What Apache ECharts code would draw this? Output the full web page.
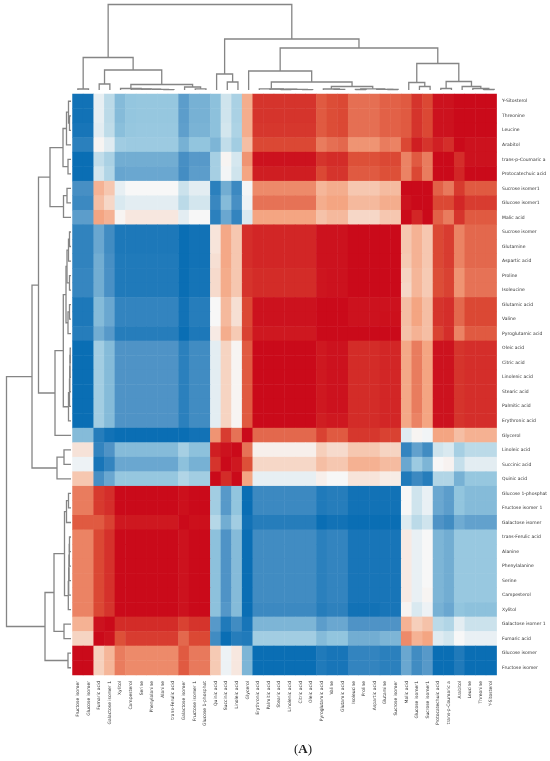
<!DOCTYPE html>
<html>
<head>
<meta charset="utf-8">
<style>html,body{margin:0;padding:0;background:#fff}#c{width:550px;height:761px}</style>
<script src="https://cdn.jsdelivr.net/npm/echarts@6/dist/echarts.min.js"></script>
</head>
<body>
<div id="c"></div>
<script>
const rowLabels = ["Y-Sitosterol","Threonine","Leucine","Arabitol","trans-p-Coumaric a","Protocatechuic acid","Sucrose isomer1","Glucose isomer1","Malic acid","Sucrose isomer","Glutamine","Aspartic acid","Proline","Isoleucine","Glutamic acid","Valine","Pyroglutamic acid","Oleic acid","Citric acid","Linolenic acid","Stearic acid","Palmitic acid","Erythronic acid","Glycerol","Linoleic acid","Succinic acid","Quinic acid","Glucose 1-phosphat","Fructose isomer 1","Galactose isomer","trans-Ferulic acid","Alanine","Phenylalanine","Serine","Campesterol","Xylitol","Galactose isomer 1","Fumaric acid","Glucose isomer","Fructose isomer"];
const colLabels = ["Fructose isomer","Glucose isomer","Fumaric acid","Galactose isomer 1","Xylitol","Campesterol","Serine","Phenylalanine","Alanine","trans-Ferulic acid","Galactose isomer","Fructose isomer 1","Glucose 1-phosphat","Quinic acid","Succinic acid","Linoleic acid","Glycerol","Erythronic acid","Palmitic acid","Stearic acid","Linolenic acid","Citric acid","Oleic acid","Pyroglutamic acid","Valine","Glutamic acid","Isoleucine","Proline","Aspartic acid","Glutamine","Sucrose isomer","Malic acid","Glucose isomer1","Sucrose isomer1","Protocatechuic acid","trans-p-Coumaric a","Arabitol","Leucine","Threonine","Y-Sitosterol"];

// correlation x 100, one list per row, columns in colLabels order
const cellValues = [
[-97,-97,-8,-30,-55,-49,-48,-48,-48,-48,-70,-60,-60,-52,-20,-38,45,85,85,85,85,85,85,72,76,78,66,66,66,70,70,72,85,78,97,97,100,100,100,100],
[-97,-97,-8,-30,-55,-49,-48,-48,-48,-48,-70,-60,-60,-52,-20,-38,45,85,85,85,85,85,85,72,76,78,66,66,66,70,70,72,85,78,97,97,100,100,100,100],
[-95,-95,-10,-28,-53,-48,-47,-47,-47,-47,-69,-59,-59,-52,-18,-37,45,84,84,84,84,84,84,72,76,78,66,66,66,70,70,72,85,78,97,97,100,100,100,100],
[-88,-88,2,-12,-43,-45,-45,-45,-45,-45,-60,-50,-50,-58,-27,-42,35,78,78,78,78,78,78,62,66,68,55,55,55,62,60,78,93,85,92,87,100,97,97,97],
[-100,-100,-27,-38,-62,-62,-62,-62,-62,-62,-78,-72,-72,-40,2,-17,55,97,97,97,97,97,97,85,88,88,75,75,75,78,78,60,72,62,100,100,87,97,97,97],
[-100,-100,-18,-35,-66,-65,-65,-65,-65,-65,-79,-70,-70,-40,-2,-20,50,93,93,93,93,93,93,78,85,85,72,72,72,75,75,60,78,62,100,100,90,100,100,100],
[-78,-78,42,30,-8,0,0,0,0,0,-22,-10,-10,-88,-62,-82,-2,58,58,58,58,58,58,40,45,45,30,30,30,37,37,100,100,100,70,63,83,72,72,72],
[-82,-82,35,20,-15,-10,-10,-10,-10,-10,-30,-18,-18,-83,-55,-78,-5,65,65,65,65,65,65,45,50,50,38,38,38,45,45,97,100,100,78,78,90,82,82,82],
[-70,-70,50,42,2,10,10,10,10,10,-10,0,0,-88,-65,-85,-15,50,50,50,50,50,50,33,38,38,20,20,20,30,30,100,90,100,70,62,85,72,72,72],
[-86,-86,-65,-80,-93,-93,-93,-93,-93,-93,-100,-97,-97,12,48,30,87,90,90,90,90,90,90,97,97,97,100,100,100,100,100,30,42,30,78,82,60,68,68,68],
[-86,-86,-65,-80,-93,-93,-93,-93,-93,-93,-100,-97,-97,12,48,30,87,90,90,90,90,90,90,97,97,97,100,100,100,100,100,30,42,30,78,82,60,68,68,68],
[-86,-86,-62,-78,-92,-92,-92,-92,-92,-92,-100,-97,-97,15,48,30,87,90,90,90,90,90,90,97,97,97,100,100,100,100,100,28,42,30,78,82,60,68,68,68],
[-84,-84,-62,-77,-92,-92,-92,-92,-92,-92,-100,-96,-96,18,46,30,85,88,88,88,88,88,88,96,97,97,100,100,100,100,100,22,40,28,76,80,55,65,65,65],
[-84,-84,-62,-77,-92,-92,-92,-92,-92,-92,-100,-96,-96,18,46,30,85,88,88,88,88,88,88,96,97,97,100,100,100,100,100,20,40,28,76,80,55,65,65,65],
[-93,-93,-55,-65,-85,-85,-85,-85,-85,-85,-97,-90,-90,0,38,15,78,97,97,97,97,97,97,100,100,100,97,97,97,97,97,35,50,35,85,87,68,78,78,78],
[-93,-93,-55,-65,-85,-85,-85,-85,-85,-85,-97,-90,-90,0,38,15,78,97,97,97,97,97,97,100,100,100,97,97,97,98,98,35,50,35,85,87,68,78,78,78],
[-90,-90,-62,-72,-90,-90,-90,-90,-90,-90,-100,-93,-93,8,45,28,80,95,95,95,95,95,95,100,100,100,100,100,100,100,100,33,42,35,80,87,60,72,72,72],
[-100,-100,-42,-55,-75,-75,-75,-75,-75,-75,-88,-80,-80,-10,22,2,72,100,100,100,100,100,100,95,97,97,88,88,88,90,90,48,62,50,97,97,85,87,87,87],
[-100,-100,-42,-55,-75,-75,-75,-75,-75,-75,-88,-80,-80,-10,22,2,72,100,100,100,100,100,100,95,97,97,88,88,88,90,90,48,62,50,97,97,85,87,87,87],
[-100,-100,-42,-55,-75,-75,-75,-75,-75,-75,-88,-80,-80,-10,22,2,72,100,100,100,100,100,100,95,97,97,88,88,88,90,90,48,62,50,97,97,85,87,87,87],
[-100,-100,-42,-55,-75,-75,-75,-75,-75,-75,-88,-80,-80,-10,22,2,72,100,100,100,100,100,100,95,97,97,88,88,88,90,90,48,62,50,97,97,85,87,87,87],
[-100,-100,-42,-55,-75,-75,-75,-75,-75,-75,-88,-80,-80,-10,22,2,72,100,100,100,100,100,100,95,97,97,88,88,88,90,90,48,62,50,97,97,85,87,87,87],
[-100,-100,-42,-55,-75,-75,-75,-75,-75,-75,-88,-80,-80,-10,22,2,72,100,100,100,100,100,100,93,95,95,88,88,88,90,90,48,60,50,97,97,85,87,87,87],
[-55,-55,-90,-97,-100,-100,-100,-100,-100,-100,-100,-97,-97,55,82,65,100,68,68,68,68,68,68,80,72,72,84,84,84,80,80,-12,2,-3,50,50,35,43,43,43],
[13,13,-85,-75,-55,-55,-55,-55,-55,-55,-40,-52,-52,93,97,100,65,5,5,5,5,5,5,25,18,18,30,30,30,22,22,-85,-68,-80,-20,-15,-40,-30,-30,-30],
[-5,-5,-95,-85,-65,-65,-65,-65,-65,-65,-52,-60,-60,85,100,95,75,20,20,20,20,20,20,35,30,30,43,43,43,37,37,-65,-45,-58,0,3,-25,-10,-10,-10],
[30,30,-78,-65,-48,-48,-48,-48,-48,-48,-35,-42,-42,100,88,100,50,-8,-8,-8,-8,-8,-8,5,0,0,12,12,12,7,7,-92,-82,-90,-35,-35,-60,-48,-48,-48],
[62,62,83,87,100,100,100,100,100,100,98,100,100,-42,-72,-50,-100,-82,-82,-82,-82,-82,-82,-92,-90,-90,-97,-97,-97,-97,-97,0,-20,-7,-65,-70,-50,-55,-55,-55],
[62,62,83,87,100,100,100,100,100,100,98,100,100,-42,-72,-50,-100,-82,-82,-82,-82,-82,-82,-92,-90,-90,-97,-97,-97,-97,-97,0,-20,-7,-65,-70,-50,-55,-55,-55],
[72,72,72,80,95,95,95,95,95,95,100,98,98,-33,-62,-42,-97,-90,-90,-90,-90,-90,-90,-100,-97,-97,-100,-100,-100,-100,-100,-13,-30,-20,-75,-80,-63,-68,-68,-68],
[60,60,78,86,100,100,100,100,100,100,97,100,100,-52,-75,-55,-100,-80,-80,-80,-80,-80,-80,-88,-85,-85,-95,-95,-95,-95,-95,8,-7,0,-58,-62,-47,-47,-47,-47],
[60,60,78,86,100,100,100,100,100,100,97,100,100,-52,-75,-55,-100,-80,-80,-80,-80,-80,-80,-88,-85,-85,-95,-95,-95,-95,-95,8,-7,0,-58,-62,-47,-47,-47,-47],
[60,60,78,86,100,100,100,100,100,100,97,100,100,-52,-75,-55,-100,-80,-80,-80,-80,-80,-80,-88,-85,-85,-95,-95,-95,-95,-95,8,-7,0,-58,-62,-47,-47,-47,-47],
[60,60,78,86,100,100,100,100,100,100,97,100,100,-52,-75,-55,-100,-80,-80,-80,-80,-80,-80,-88,-85,-85,-95,-95,-95,-95,-95,8,-7,0,-58,-62,-47,-47,-47,-47],
[60,60,78,86,100,100,100,100,100,100,97,100,100,-52,-75,-55,-100,-80,-80,-80,-80,-80,-80,-88,-85,-85,-95,-95,-95,-95,-95,8,-7,2,-58,-62,-47,-47,-47,-47],
[60,60,78,85,100,100,100,100,100,100,97,100,100,-52,-73,-55,-100,-82,-82,-82,-82,-82,-82,-90,-87,-87,-97,-97,-97,-95,-95,2,-15,-5,-60,-65,-50,-52,-52,-52],
[42,42,97,100,88,88,88,88,88,88,80,85,85,-72,-92,-80,-95,-58,-58,-58,-58,-58,-58,-70,-65,-65,-75,-75,-75,-75,-75,42,25,33,-30,-35,-10,-22,-22,-22],
[22,22,100,97,75,82,82,82,82,82,68,78,78,-80,-100,-90,-92,-42,-42,-42,-42,-42,-42,-55,-50,-50,-62,-62,-62,-58,-58,58,42,50,-12,-18,0,-7,-7,-7],
[100,100,24,40,62,58,58,58,58,58,72,63,63,28,-5,10,-58,-100,-100,-100,-100,-100,-100,-92,-95,-95,-85,-85,-85,-88,-88,-65,-80,-72,-100,-100,-92,-100,-100,-100],
[100,100,24,40,62,58,58,58,58,58,72,63,63,28,-5,10,-58,-100,-100,-100,-100,-100,-100,-92,-95,-95,-85,-85,-85,-88,-88,-65,-80,-72,-100,-100,-92,-100,-100,-100]
];

// top dendrogram: each merge joins two entries (0-39 leaf column, 40+ earlier merge)
const topMergeA = [0,2,8,7,6,5,4,11,10,46,41,40,14,13,21,19,55,18,17,24,23,29,28,26,63,60,58,16,32,31,34,38,37,36,70,69,67,53,51];
const topMergeB = [1,3,9,42,43,44,45,12,47,48,49,50,15,52,22,20,54,56,57,25,59,30,61,27,62,64,65,66,33,68,35,39,71,72,73,74,75,76,77];
const topMergeH = [1,6,.4,.6,.8,1,1.5,1.2,3,5.5,20,32.5,8,16,.3,.3,.6,.9,1.2,.6,1,.5,.7,.5,1.2,3.5,8,19,3.5,7.5,1.5,.5,1.5,3.5,8.5,26.5,42,51,85.5];

// left dendrogram: same form, leaves are rows
const leftMergeA = [1,0,41,4,42,6,45,44,9,48,12,49,14,52,51,17,55,56,57,58,54,60,47,24,63,62,27,66,30,68,69,70,71,67,36,73,38,75,65];
const leftMergeB = [2,40,3,5,43,7,8,46,10,11,13,50,15,16,53,18,19,20,21,22,59,23,61,25,26,64,28,29,31,32,33,34,35,72,37,74,39,76,77];
const leftMergeH = [1.5,2.5,4.5,3,8,4,7.5,21,1.5,2.5,1.5,4,1.5,3,5,.8,1,1.2,1.5,2.5,7.7,16,32.5,7,14,39,2.5,4.5,1.5,1.7,2,2.3,2.7,6.5,7,17,3,26,64.5];

const colorStops = ['#0a6eb4','#4f93c6','#92c5de','#c5dfeb','#f7f7f7','#f6cfbb','#f4a582','#dd5038','#ca0a1a'];

function mergeSegments(a, b, h) {
  const pos = [], ht = [];
  for (let i = 0; i < 40; i++) { pos[i] = i + 0.5; ht[i] = 0; }
  return a.map(function (_, i) {
    const n = 40 + i, l = a[i], r = b[i];
    pos[n] = (pos[l] + pos[r]) / 2; ht[n] = h[i];
    return [pos[l], ht[l], pos[r], ht[r], h[i]];
  });
}
const lineStyle = {stroke:'#858585', lineWidth:1.3, fill:'none'};
function topItem(p, api) {
  const A = api.coord([api.value(0), api.value(1)]), B = api.coord([api.value(2), api.value(3)]),
        T = api.coord([api.value(0), api.value(4)])[1];
  return {type:'polyline', shape:{points:[A,[A[0],T],[B[0],T],B]}, style:lineStyle, silent:true};
}
function leftItem(p, api) {
  const A = api.coord([api.value(1), api.value(0)]), B = api.coord([api.value(3), api.value(2)]),
        T = api.coord([api.value(4), api.value(0)])[0];
  return {type:'polyline', shape:{points:[A,[T,A[1]],[T,B[1]],B]}, style:lineStyle, silent:true};
}

const cells = [];
cellValues.forEach(function (row, r) { row.forEach(function (v, c) { cells.push([c, r, v / 100]); }); });

const labelBase = {fontFamily:'"DejaVu Sans"', fontSize:4.5, color:'#333'};
const chart = echarts.init(document.getElementById('c'), null, {renderer:'canvas'});
chart.setOption({
  animation:false,
  backgroundColor:'#fff',
  title:{text:'({b|A})', left:289, top:738, textStyle:{fontFamily:'"Liberation Serif"', fontSize:13, fontWeight:'normal', color:'#222', rich:{b:{fontFamily:'"Liberation Serif"', fontSize:13, fontWeight:'bold', color:'#222'}}}},
  grid:[
    {left:72.5, top:94, width:427, height:581},
    {left:72.5, top:0, width:427, height:90},
    {left:0, top:94, width:71, height:581}
  ],
  xAxis:[
    {type:'category', gridIndex:0, data:colLabels, axisLine:{show:false}, axisTick:{show:false}, splitLine:{show:false},
     axisLabel:Object.assign({interval:0, rotate:90, margin:6}, labelBase)},
    {type:'value', gridIndex:1, min:0, max:40, show:false},
    {type:'value', gridIndex:2, min:0, max:71, inverse:true, show:false}
  ],
  yAxis:[
    {type:'category', gridIndex:0, inverse:true, position:'right', data:rowLabels, axisLine:{show:false}, axisTick:{show:false}, splitLine:{show:false},
     axisLabel:Object.assign({interval:0, margin:5.5, align:'left'}, labelBase)},
    {type:'value', gridIndex:1, min:0, max:90, show:false},
    {type:'value', gridIndex:2, min:0, max:40, inverse:true, show:false}
  ],
  visualMap:{show:false, min:-1, max:1, seriesIndex:0, dimension:2, inRange:{color:colorStops}},
  series:[
    {type:'heatmap', xAxisIndex:0, yAxisIndex:0, data:cells, progressive:0, itemStyle:{borderWidth:0}},
    {type:'custom', xAxisIndex:1, yAxisIndex:1, clip:false, data:mergeSegments(topMergeA, topMergeB, topMergeH), renderItem:topItem, encode:{x:0,y:1}},
    {type:'custom', xAxisIndex:2, yAxisIndex:2, clip:false, data:mergeSegments(leftMergeA, leftMergeB, leftMergeH), renderItem:leftItem, encode:{x:1,y:0}}
  ]
});
</script>
</body>
</html>
